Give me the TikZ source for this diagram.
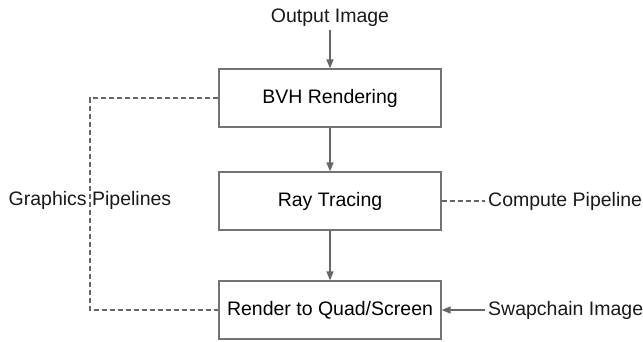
\documentclass[tikz,border=0pt]{standalone}
\usepackage{fontspec}
\setmainfont{Liberation Sans}
\usetikzlibrary{arrows.meta}

\tikzset{
  stage/.style={draw=black!55, line width=1.2pt, minimum width=222pt, minimum height=58pt, inner sep=0pt},
  label/.style={inner sep=3pt, text=black!90},
  flow/.style={->, draw=black!60, line width=1.3pt},
  link/.style={draw=black!60, line width=1.1pt, dash pattern=on 5pt off 3pt}
}

\begin{document}
\begin{tikzpicture}[x=1pt, y=-1pt, >={Triangle[length=9pt,width=7pt]}, font=\fontsize{19.5}{23}\selectfont]
            \useasboundingbox (0,0) rectangle (643,341);
            \node[label] (out) at (330,18) {Output Image};
            \node[stage] (bvh) at (330,98) {BVH Rendering};
            \node[stage] (ray) at (330,201) {Ray Tracing};
            \node[stage] (quad) at (330,310) {Render to Quad/Screen};
            \node[label] (gfx) at (90,200) {Graphics Pipelines};
            \node[label, anchor=west] (comp) at (485,201) {Compute Pipeline};
            \node[label, anchor=west] (swap) at (485,310) {Swapchain Image};
            
            \draw[flow] (out.south) -- (bvh.north);
            \draw[flow] (bvh.south) -- (ray.north);
            \draw[flow] (ray.south) -- (quad.north);
            \draw[flow] (swap.west) -- (quad.east);
            \draw[link] (ray.east) -- (comp.west);
            \draw[link] (bvh.west) -| (gfx.center) |- (quad.west); % the label sits on the line
        \end{tikzpicture}
\end{document}
